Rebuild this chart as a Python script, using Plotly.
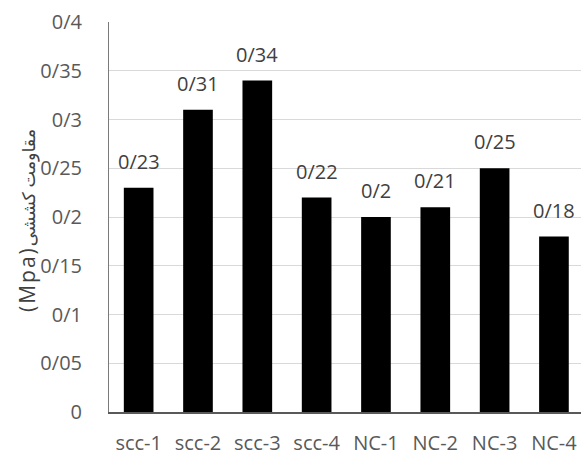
import plotly.graph_objects as go

categories = ["scc-1", "scc-2", "scc-3", "scc-4", "NC-1", "NC-2", "NC-3", "NC-4"]
values = [0.23, 0.31, 0.34, 0.22, 0.20, 0.21, 0.25, 0.18]
value_labels = ["0/23", "0/31", "0/34", "0/22", "0/2", "0/21", "0/25", "0/18"]
tick_vals = [0, 0.05, 0.1, 0.15, 0.2, 0.25, 0.3, 0.35, 0.4]
tick_text = ["0", "0/05", "0/1", "0/15", "0/2", "0/25", "0/3", "0/35", "0/4"]
y_title_latin = "(Mpa)"
y_title_fa = "مقاومت کششی"

FONT = "Open Sans, DejaVu Sans, sans-serif"
W, H = 581, 455
L, R, T, B = 109, 0, 22, 43

fig = go.Figure()
fig.add_trace(go.Bar(
    x=list(range(len(categories))), y=values,
    marker=dict(color="#000000", line=dict(width=0)),
    width=0.5, hoverinfo="skip",
))

for i, (v, t) in enumerate(zip(values, value_labels)):
    fig.add_annotation(x=i, y=v, text=t, showarrow=False, xref="x", yref="y",
                       yanchor="bottom", yshift=11,
                       font=dict(family=FONT, size=20, color="#404040"))

title_text = ("<span style='letter-spacing:2px'>" + y_title_latin + "</span>"
              + "<span style='font-size:17.5px'>" + y_title_fa + "</span>")
fig.add_annotation(x=(27 - L) / (W - L - R), y=(H - B - 221) / (H - T - B),
                   xref="paper", yref="paper", text=title_text,
                   showarrow=False, textangle=-90, xanchor="center", yanchor="middle",
                   font=dict(family=FONT, size=21, color="#404040"))

fig.update_layout(
    width=W, height=H,
    margin=dict(l=L, r=R, t=T, b=B),
    paper_bgcolor="white", plot_bgcolor="white",
    showlegend=False,
    bargap=0.5,
)

fig.update_xaxes(
    tickmode="array", tickvals=list(range(len(categories))), ticktext=categories,
    range=[-0.5, 7.456], showgrid=False, zeroline=False,
    showline=True, linecolor="#595959", linewidth=1.5,
    ticks="", tickfont=dict(family=FONT, size=20, color="#595959"),
    ticklabelstandoff=12,
)
fig.update_yaxes(
    range=[0, 0.4], tickmode="array", tickvals=tick_vals, ticktext=tick_text,
    showgrid=True, gridcolor="#d9d9d9", gridwidth=1, zeroline=False,
    showline=True, linecolor="#7a7a7a", linewidth=1,
    ticks="", tickfont=dict(family=FONT, size=20, color="#595959"),
    ticklabelstandoff=22,
)

fig.write_html("out.html", post_script="document.body.style.margin='0px';",
               config={"displayModeBar": False})
